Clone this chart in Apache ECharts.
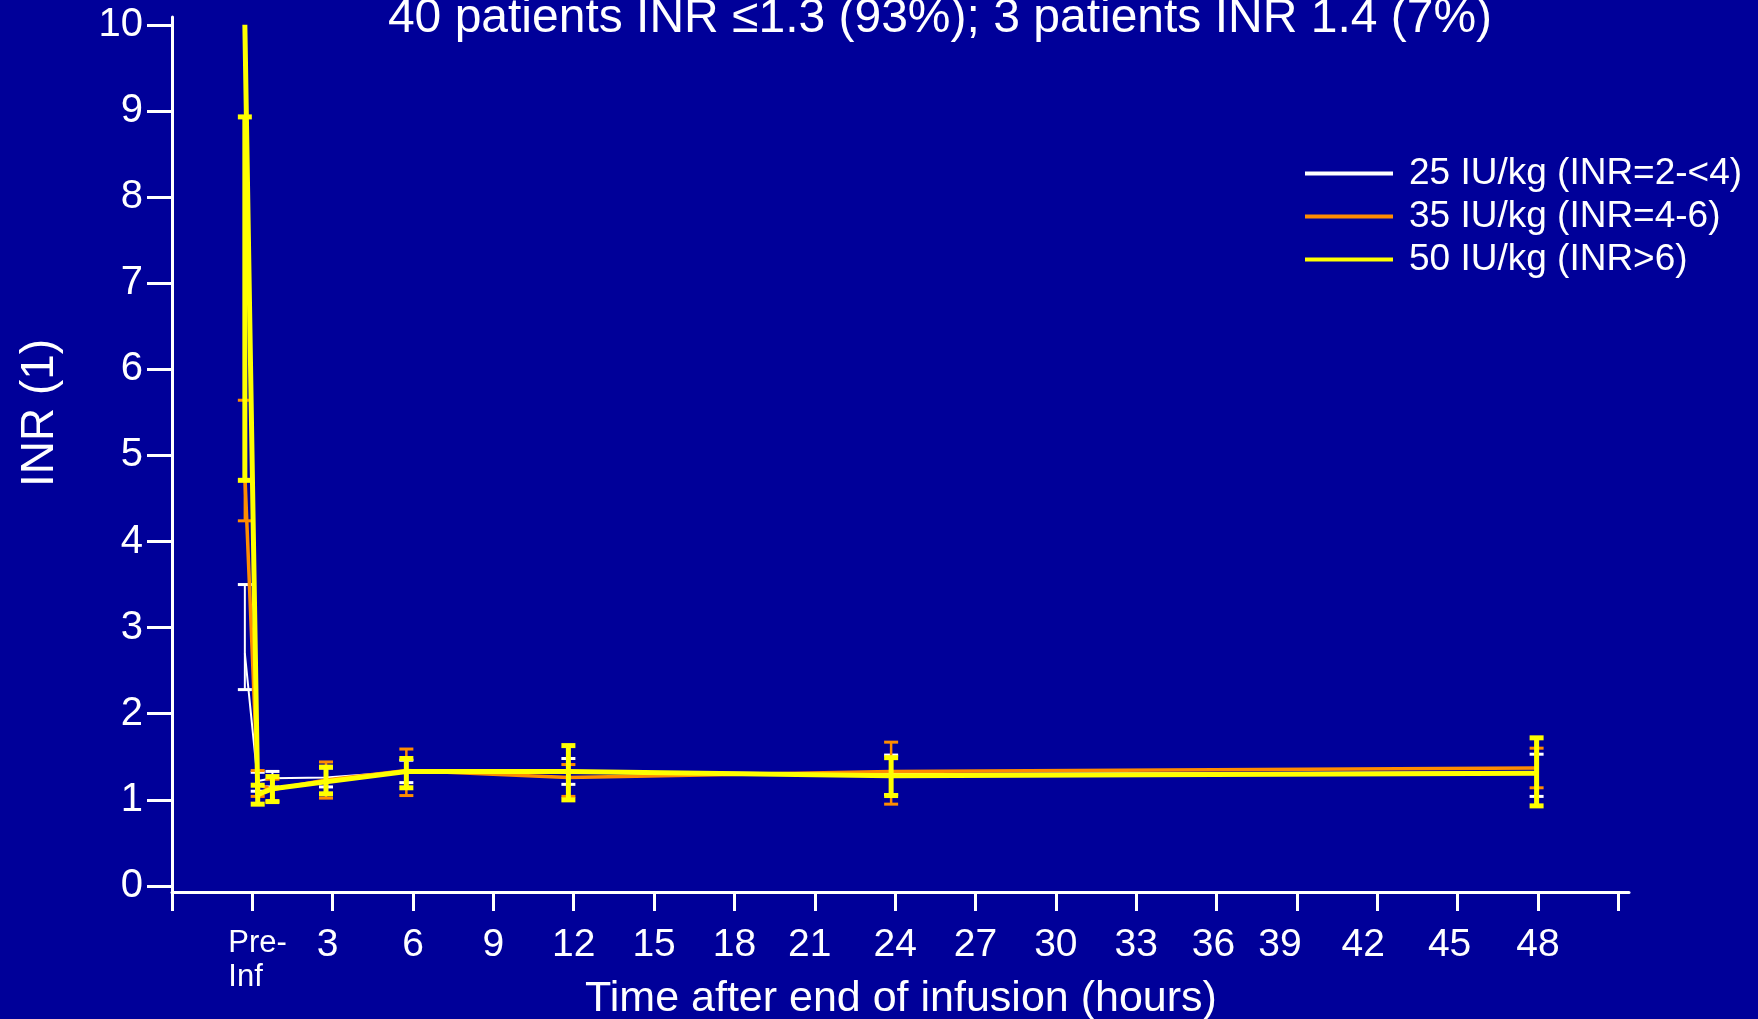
<!DOCTYPE html>
<html>
<head>
<meta charset="utf-8">
<script src="https://cdn.jsdelivr.net/npm/echarts@6/dist/echarts.min.js"></script>
<style>
html,body{margin:0;padding:0;background:#000099;}
#c{width:1758px;height:1019px;}
</style>
</head>
<body>
<div id="c"></div>
<script>
// ---- data ----
const titleText = '40 patients INR \u22641.3 (93%); 3 patients INR 1.4 (7%)';
const xAxisTitle = 'Time after end of infusion (hours)';
const yAxisTitle = 'INR (1)';
const seriesNames = ['25 IU/kg (INR=2-<4)', '35 IU/kg (INR=4-6)', '50 IU/kg (INR>6)'];
// time points (hours); pre-infusion plotted just before 0
const times = [-0.28, 0.2, 0.75, 2.75, 5.75, 11.8, 23.85, 47.95];
// 25 IU/kg
const white_mean = [2.70, 1.22, 1.25, 1.26, 1.33, 1.33, 1.30, 1.32];
const white_low  = [2.28, 1.10, 1.15, 1.15, 1.20, 1.18, 1.06, 1.04];
const white_high = [3.50, 1.32, 1.33, 1.37, 1.46, 1.48, 1.52, 1.53];
// 35 IU/kg
const orange_mean = [4.78, 1.18, 1.12, 1.23, 1.34, 1.26, 1.33, 1.37];
const orange_low  = [4.24, 1.04, 0.98, 1.02, 1.05, 1.04, 0.95, 1.14];
const orange_high = [5.64, 1.34, 1.24, 1.44, 1.59, 1.41, 1.67, 1.60];
// 50 IU/kg
const yellow_mean = [10.0, 1.06, 1.13, 1.21, 1.33, 1.33, 1.28, 1.31];
const yellow_low  = [4.71, 0.95, 0.98, 1.07, 1.14, 1.00, 1.05, 0.93];
const yellow_high = [8.93, 1.17, 1.27, 1.38, 1.48, 1.63, 1.49, 1.72];
// axis ticks
const xTickValues = [-3,0,3,6,9,12,15,18,21,24,27,30,33,36,39,42,45,48,51];
const xLabelValues = [0,3,6,9,12,15,18,21,24,27,30,33,36,39,42,45,48];
const xLabelTexts = ['Pre-Inf','3','6','9','12','15','18','21','24','27','30','33','36','39','42','45','48'];
const yTickValues = [0,1,2,3,4,5,6,7,8,9,10];

// ---- chart ----
const FONT = "'Liberation Sans', Arial, sans-serif";
const BG = '#000099';
const C_WHITE = '#ffffff', C_ORANGE = '#ff8c00', C_YELLOW = '#ffff00';

// per-label nudges (label styling only)
const labelShift = {'3':5, '21':5, '36':3, '39':17, '42':14, '45':8};

function pairs(t, v){ return t.map((x,i)=>[x, v[i]]); }
function triples(t, lo, hi){ return t.map((x,i)=>[x, lo[i], hi[i]]); }

function errBar(color, lw, capHalf, capLw){
  return function(params, api){
    const x = api.value(0);
    const lo = api.coord([x, api.value(1)]);
    const hi = api.coord([x, api.value(2)]);
    const st = {stroke: color, lineWidth: lw};
    const cs = {stroke: color, lineWidth: capLw};
    return {type:'group', children:[
      {type:'line', shape:{x1:lo[0], y1:lo[1], x2:hi[0], y2:hi[1]}, style: st},
      {type:'line', shape:{x1:lo[0]-capHalf, y1:lo[1], x2:lo[0]+capHalf, y2:lo[1]}, style: cs},
      {type:'line', shape:{x1:hi[0]-capHalf, y1:hi[1], x2:hi[0]+capHalf, y2:hi[1]}, style: cs}
    ]};
  };
}

const rich = {
  pi: {fontSize: 31, lineHeight: 34, color:'#fff', fontFamily: FONT, width: 60, align:'left', padding:[0,0,0,12]}
};
Object.keys(labelShift).forEach(k=>{
  rich['s'+k] = {fontSize: 39, color:'#fff', fontFamily: FONT, padding:[0, labelShift[k]*2, 0, 0]};
});

const chart = echarts.init(document.getElementById('c'), null, {renderer:'canvas'});
chart.setOption({
  backgroundColor: BG,
  animation: false,
  textStyle: {fontFamily: FONT},
  grid: {left: 172, right: 129, top: 17, bottom: 127, containLabel: false},
  legend: {
    orient: 'vertical',
    left: 1300, top: 147,
    itemWidth: 88, itemHeight: 4, itemGap: 0,
    icon: 'rect',
    textStyle: {color:'#fff', fontSize: 37, fontFamily: FONT, lineHeight: 43, padding:[0,0,0,11]},
    data: seriesNames
  },
  xAxis: {
    type: 'value', min: -3, max: 51.4,
    axisLine: {onZero: false, lineStyle: {color:'#fff', width: 3}},
    axisTick: {show: true, customValues: xTickValues, length: 19, lineStyle: {color:'#fff', width: 3}},
    axisLabel: {
      customValues: xLabelValues, color:'#fff', fontSize: 39, margin: 34, fontFamily: FONT,
      formatter: function(v){
        const i = xLabelValues.indexOf(v);
        const t = i >= 0 ? xLabelTexts[i] : '';
        if (t === 'Pre-Inf') return '{pi|Pre-}\n{pi|Inf}';
        if (labelShift[t] !== undefined) return '{s'+t+'|'+t+'}';
        return t;
      },
      rich: rich
    },
    splitLine: {show: false}
  },
  yAxis: {
    type: 'value', min: -0.07, max: 10.09,
    axisLine: {show: true, onZero: false, lineStyle: {color:'#fff', width: 3}},
    axisTick: {show: true, customValues: yTickValues, length: 25, lineStyle: {color:'#fff', width: 3}},
    axisLabel: {customValues: yTickValues, color:'#fff', fontSize: 40, margin: 29, fontFamily: FONT},
    splitLine: {show: false}
  },
  graphic: [
    {type:'text', x: 940, y: -5, style:{text: titleText, fill:'#fff', font: '48px ' + FONT, textAlign:'center', textVerticalAlign:'top'}},
    {type:'text', x: 40, y: 413, rotation: Math.PI/2, style:{text: yAxisTitle, fill:'#fff', font: '46px ' + FONT, textAlign:'center', textVerticalAlign:'middle'}},
    {type:'text', x: 901, y: 999, style:{text: xAxisTitle, fill:'#fff', font: '43px ' + FONT, textAlign:'center', textVerticalAlign:'middle'}}
  ],
  series: [
    {name: seriesNames[0], type:'line', data: pairs(times, white_mean), symbol:'none', z: 2,
      lineStyle:{color: C_WHITE, width: 2}, itemStyle:{color: C_WHITE}},
    {name: 'err25', type:'custom', data: triples(times, white_low, white_high), z: 3,
      encode:{x:0, y:[1,2]}, renderItem: errBar(C_WHITE, 2, 7, 3)},
    {name: seriesNames[1], type:'line', data: pairs(times, orange_mean), symbol:'none', z: 4,
      lineStyle:{color: C_ORANGE, width: 3.5}, itemStyle:{color: C_ORANGE}},
    {name: 'err35', type:'custom', data: triples(times, orange_low, orange_high), z: 5,
      encode:{x:0, y:[1,2]}, renderItem: errBar(C_ORANGE, 2.5, 7, 3)},
    {name: seriesNames[2], type:'line', data: pairs(times, yellow_mean), symbol:'none', z: 6,
      lineStyle:{color: C_YELLOW, width: 5}, itemStyle:{color: C_YELLOW}},
    {name: 'err50', type:'custom', data: triples(times, yellow_low, yellow_high), z: 7,
      encode:{x:0, y:[1,2]}, renderItem: errBar(C_YELLOW, 5, 7, 5)}
  ]
});
</script>
</body>
</html>
